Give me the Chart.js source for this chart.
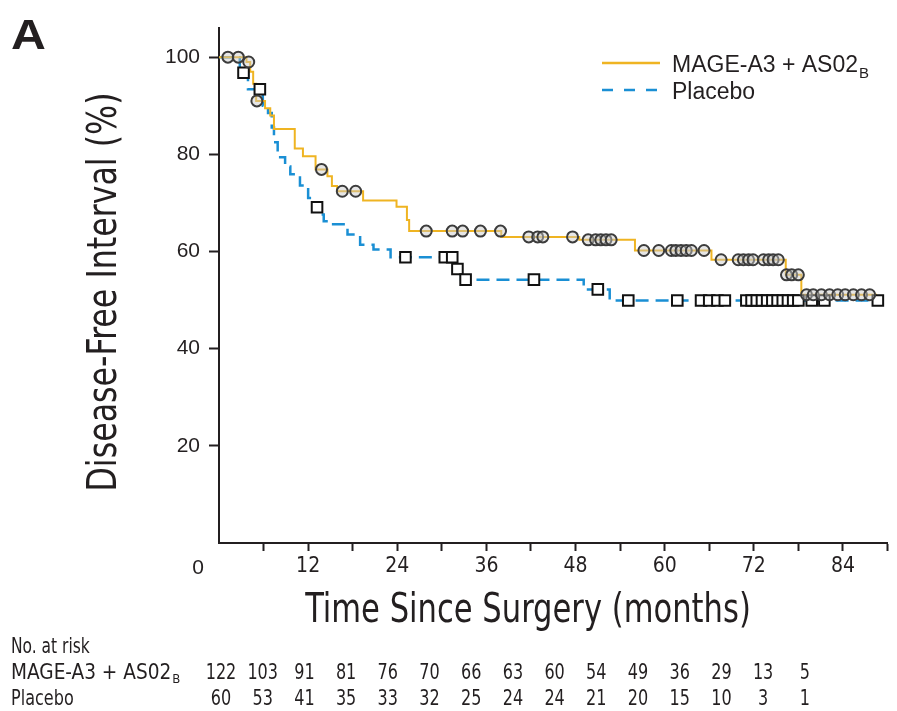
<!DOCTYPE html>
<html>
<head>
<meta charset="utf-8">
<script src="https://cdn.jsdelivr.net/npm/chart.js@4/dist/chart.umd.min.js"></script>
<style>
  body { margin: 0; background: #fff; }
  #wrap { width: 897px; height: 711px; position: relative; }
</style>
</head>
<body>
<div id="wrap"><canvas id="myChart"></canvas></div>
<script>
// Kaplan-Meier steps: time (months) and value after the step (%)
var vaccineTimes = [0, 3.7, 4.2, 4.6, 5.0, 6.2, 6.9, 7.4, 10.2, 11.3, 13.0, 14.6, 15.2, 15.9, 19.4, 23.9, 25.3, 25.6, 38.0, 48.5, 56.0, 66.3, 76.3, 78.4, 88.6];
var vaccineSurv  = [100, 99, 97, 94.5, 91, 89.5, 88, 85.2, 81.2, 79.6, 76.9, 75.5, 73.5, 72.4, 70.5, 69.2, 66.5, 64.2, 63.0, 62.4, 60.2, 58.3, 55.2, 51.1, 51.1];
var vaccineCensored = [1.2, 2.6, 4.0, 5.1, 13.8, 16.6, 18.4, 27.9, 31.4, 32.8, 35.2, 37.9, 41.7, 42.9, 43.6, 47.6, 49.7, 50.7, 51.4, 52.1, 52.8,
    57.2, 59.2, 60.9, 61.5, 62.2, 62.9, 63.6, 65.3, 67.6, 69.9, 70.6, 71.3, 71.9, 73.3, 74.0, 74.6, 75.3, 76.4, 77.1, 78.0,
    79.1, 80.0, 81.1, 82.2, 83.3, 84.3, 85.4, 86.5, 87.6];

var placeboTimes = [0, 2.8, 3.9, 5.9, 6.6, 7.1, 7.4, 7.9, 8.9, 9.6, 10.9, 12.0, 12.8, 13.6, 14.1, 15.0, 17.3, 19.0, 20.8, 23.1, 31.8, 32.6, 49.1, 52.6, 88.7];
var placeboSurv  = [100, 96.8, 93.4, 90.0, 88.5, 85.5, 82.5, 79.4, 77.5, 75.9, 73.6, 71.0, 69.1, 67.6, 66.2, 65.6, 63.5, 61.4, 60.4, 58.8, 56.4, 54.2, 52.2, 49.9, 49.9];
var placeboCensored = [3.3, 5.5, 13.2, 25.1, 30.4, 31.4, 32.1, 33.2, 42.4, 51.0, 55.1, 61.7, 64.9, 66.0, 67.1, 68.1,
    71.0, 71.7, 72.4, 73.1, 73.8, 74.5, 75.2, 75.9, 76.6, 77.3, 78.0, 79.8, 81.5, 88.7];

// number at risk, every 6 months from 0 to 84
var riskMonths  = [0, 6, 12, 18, 24, 30, 36, 42, 48, 54, 60, 66, 72, 78, 84];
var riskVaccine = [122, 103, 91, 81, 76, 70, 66, 63, 60, 54, 49, 36, 29, 13, 5];
var riskPlacebo = [60, 53, 41, 35, 33, 32, 25, 24, 24, 21, 20, 15, 10, 3, 1];

var yTicks = [20, 40, 60, 80, 100];
var xLabelTicks = [12, 24, 36, 48, 60, 72, 84];

var yellow = '#efb422';
var blue = '#1a8fd4';
var ink = '#231f20';
var narrow = "'DejaVu Sans Condensed', sans-serif";
var regular = "Liberation Sans, Arial, Helvetica, sans-serif";

var survAt = function(times, surv, t) {
    var s = surv[0];
    for (var i = 0; i < times.length; i++) {
        if (times[i] <= t) s = surv[i];
    }
    return s;
};

var toPoints = function(times, surv) {
    return times.map(function(t, i) { return { x: t, y: surv[i] }; });
};

var censorPoints = function(cens, times, surv) {
    return cens.map(function(t) { return { x: t, y: survAt(times, surv, t) }; });
};

var tickColor = function(ctx) {
    return ctx.tick && ctx.tick.value === 0 ? 'rgba(0,0,0,0)' : ink;
};

// text squeezed sideways to mimic the condensed face of the original
var squeezed = function(ctx, text, x, y, sx, angle) {
    ctx.save();
    ctx.translate(x, y);
    if (angle) ctx.rotate(angle);
    ctx.scale(sx, 1);
    ctx.fillText(text, 0, 0);
    ctx.restore();
};

var extras = {
    id: 'extras',
    afterDraw: function(chart) {
        var ctx = chart.ctx;
        ctx.save();
        ctx.fillStyle = ink;

        // panel letter
        ctx.font = 'bold 42px ' + regular;
        ctx.textAlign = 'left';
        ctx.textBaseline = 'alphabetic';
        squeezed(ctx, 'A', 11, 49, 1.15, 0);

        // shared origin label
        ctx.font = '21px ' + regular;
        ctx.textAlign = 'center';
        ctx.textBaseline = 'middle';
        ctx.fillText('0', 198, 568);

        // axis titles
        ctx.font = '40px ' + narrow;
        squeezed(ctx, 'Time Since Surgery (months)', 528, 612, 0.85, 0);
        squeezed(ctx, 'Disease-Free Interval (%)', 106, 292, 0.88, -Math.PI / 2);

        // legend
        var lx = 602, lw = 58;
        ctx.lineWidth = 2.5;
        ctx.strokeStyle = yellow;
        ctx.beginPath(); ctx.moveTo(lx, 63); ctx.lineTo(lx + lw, 63); ctx.stroke();
        ctx.strokeStyle = blue;
        ctx.setLineDash([11, 11]);
        ctx.beginPath(); ctx.moveTo(lx, 90); ctx.lineTo(lx + lw, 90); ctx.stroke();
        ctx.setLineDash([]);
        ctx.textAlign = 'left';
        ctx.textBaseline = 'alphabetic';
        ctx.font = '23px ' + regular;
        var t1 = 'MAGE-A3 + AS02';
        ctx.fillText(t1, 672, 72);
        var w1 = ctx.measureText(t1).width;
        ctx.font = '15px ' + regular;
        ctx.fillText('B', 672 + w1 + 1, 78);
        ctx.font = '23px ' + regular;
        ctx.fillText('Placebo', 672, 99);

        // number at risk table
        ctx.font = '21px ' + narrow;
        ctx.textBaseline = 'middle';
        squeezed(ctx, 'No. at risk', 11, 648, 0.82, 0);
        var t2 = 'MAGE-A3 + AS02';
        squeezed(ctx, t2, 11, 674, 0.98, 0);
        var w2 = ctx.measureText(t2).width * 0.98;
        ctx.font = '13px ' + narrow;
        ctx.fillText('B', 11 + w2 + 1, 680);
        ctx.font = '21px ' + narrow;
        squeezed(ctx, 'Placebo', 11, 700, 0.85, 0);
        ctx.textAlign = 'center';
        var colStart = 221, colStep = 41.7;
        riskMonths.forEach(function(m, i) {
            var cx = colStart + i * colStep;
            squeezed(ctx, String(riskVaccine[i]), cx, 674, 0.85, 0);
            squeezed(ctx, String(riskPlacebo[i]), cx, 700, 0.85, 0);
        });
        ctx.restore();
    }
};

var config = {
    type: 'scatter',
    data: {
        datasets: [{
            label: 'MAGE-A3 + AS02B censored',
            data: censorPoints(vaccineCensored, vaccineTimes, vaccineSurv),
            pointStyle: 'circle',
            pointRadius: 5.5,
            pointBorderWidth: 2,
            pointBorderColor: '#3c3c3c',
            pointBackgroundColor: 'rgba(200,200,200,0.45)',
            order: 0
        }, {
            label: 'Placebo censored',
            data: censorPoints(placeboCensored, placeboTimes, placeboSurv),
            pointStyle: 'rect',
            pointRadius: 7.5,
            pointBorderWidth: 2,
            pointBorderColor: '#111',
            pointBackgroundColor: '#fff',
            order: 0
        }, {
            label: 'MAGE-A3 + AS02B',
            data: toPoints(vaccineTimes, vaccineSurv),
            showLine: true,
            stepped: 'before',
            borderColor: yellow,
            borderWidth: 2,
            pointRadius: 0,
            order: 1
        }, {
            label: 'Placebo',
            data: toPoints(placeboTimes, placeboSurv),
            showLine: true,
            stepped: 'before',
            borderColor: blue,
            borderWidth: 2.5,
            borderDash: [13, 7],
            pointRadius: 0,
            order: 2
        }]
    },
    options: {
        responsive: true,
        maintainAspectRatio: false,
        animation: false,
        layout: { padding: { left: 0, top: 28, right: 9, bottom: 0 } },
        plugins: { legend: { display: false }, tooltip: { enabled: false } },
        scales: {
            x: {
                type: 'linear',
                min: 0,
                max: 90,
                afterFit: function(scale) { scale.height = 168; },
                border: { display: true, color: ink, width: 2 },
                grid: { drawOnChartArea: false, drawTicks: true, tickLength: 8, tickWidth: 2, tickColor: tickColor },
                ticks: {
                    stepSize: 6,
                    autoSkip: false,
                    maxRotation: 0,
                    padding: 3,
                    color: ink,
                    font: { family: narrow, size: 21 },
                    callback: function(v) { return xLabelTicks.indexOf(v) >= 0 ? String(v) : ''; }
                }
            },
            y: {
                type: 'linear',
                min: 0,
                max: 106,
                afterFit: function(scale) { scale.width = 219; },
                border: { display: true, color: ink, width: 2 },
                grid: { drawOnChartArea: false, drawTicks: true, tickLength: 10, tickWidth: 2, tickColor: tickColor },
                ticks: {
                    stepSize: 20,
                    includeBounds: false,
                    padding: 9,
                    color: ink,
                    font: { family: regular, size: 21 },
                    callback: function(v) { return yTicks.indexOf(v) >= 0 ? String(v) : ''; }
                }
            }
        }
    },
    plugins: [extras]
};

var myChart = new Chart(document.getElementById('myChart').getContext('2d'), config);
</script>
</body>
</html>
